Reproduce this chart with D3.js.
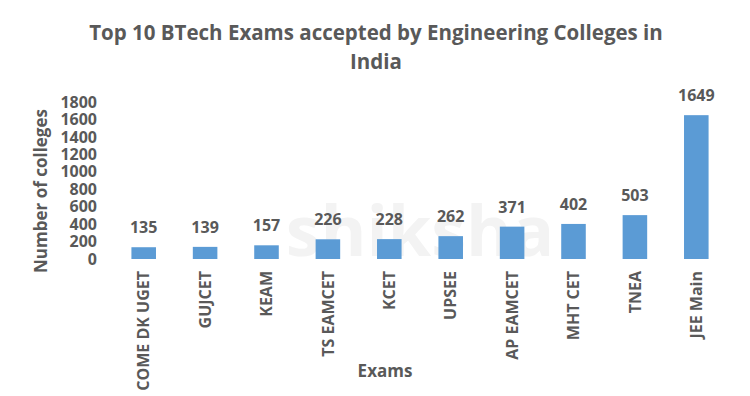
<!DOCTYPE html>
<html>
<head>
<meta charset="utf-8">
<script src="https://cdn.jsdelivr.net/npm/d3@7"></script>
<style>
  body { margin: 0; background: #fff; }
  text { font-family: "Open Sans", sans-serif; font-weight: bold; fill: #595959; }
</style>
</head>
<body>
<svg width="750" height="396"></svg>
<script>
const w = 750;
const h = 396;

const exams = ['COME DK UGET', 'GUJCET', 'KEAM', 'TS EAMCET', 'KCET', 'UPSEE', 'AP EAMCET', 'MHT CET', 'TNEA', 'JEE Main'];
const colleges = [135, 139, 157, 226, 228, 262, 371, 402, 503, 1649];
const yTicks = [0, 200, 400, 600, 800, 1000, 1200, 1400, 1600, 1800];

const svg = d3.select('svg');

// faint watermark behind the bars
svg.append('text')
	.attr('x', 420)
	.attr('y', 256)
	.attr('text-anchor', 'middle')
	.style('font-size', '70px')
	.style('fill', '#f3f3f3')
	.text('shiksha');

const xScale = d3.scaleBand().domain(exams).range([113, 727]).paddingInner(0.6).paddingOuter(0.3);
const yScale = d3.scaleLinear().domain([0, 1800]).range([259, 102]);

// title
svg.append('text')
	.attr('x', 376)
	.attr('y', 40)
	.attr('text-anchor', 'middle')
	.style('font-size', '20.5px')
	.text('Top 10 BTech Exams accepted by Engineering Colleges in');
svg.append('text')
	.attr('x', 376)
	.attr('y', 69)
	.attr('text-anchor', 'middle')
	.style('font-size', '20.5px')
	.text('India');

// y axis
const yAxis = d3.axisLeft(yScale).tickValues(yTicks).tickSize(0).tickPadding(0).tickFormat(d3.format('d'));
const gy = svg.append('g').attr('transform', 'translate(97,0)').call(yAxis);
gy.select('.domain').remove();
gy.selectAll('text').style('font-size', '16px');

// x axis
const xAxis = d3.axisBottom(xScale).tickSize(0).tickPadding(0);
const gx = svg.append('g').attr('transform', 'translate(0,271)').call(xAxis);
gx.select('.domain').remove();
gx.selectAll('text')
	.style('font-size', '16px')
	.attr('text-anchor', 'end')
	.attr('dy', '0.35em')
	.attr('transform', 'rotate(-90)')
	.attr('x', 0)
	.attr('y', 0);

// bars
svg.selectAll('rect.bar')
	.data(exams)
	.enter()
	.append('rect')
	.attr('class', 'bar')
	.attr('x', (d) => xScale(d))
	.attr('width', xScale.bandwidth())
	.attr('y', (d, i) => yScale(colleges[i]))
	.attr('height', (d, i) => yScale(0) - yScale(colleges[i]))
	.attr('fill', '#5b9bd5');

// value labels
svg.selectAll('text.val')
	.data(exams)
	.enter()
	.append('text')
	.attr('class', 'val')
	.attr('x', (d) => xScale(d) + xScale.bandwidth() / 2)
	.attr('y', (d, i) => yScale(colleges[i]) - 14)
	.attr('text-anchor', 'middle')
	.style('font-size', '16px')
	.text((d, i) => colleges[i]);

// axis titles
svg.append('text')
	.attr('transform', 'translate(47,191) rotate(-90)')
	.attr('text-anchor', 'middle')
	.style('font-size', '17px')
	.text('Number of colleges');
svg.append('text')
	.attr('x', 385)
	.attr('y', 377)
	.attr('text-anchor', 'middle')
	.style('font-size', '17px')
	.text('Exams');
</script>
</body>
</html>
